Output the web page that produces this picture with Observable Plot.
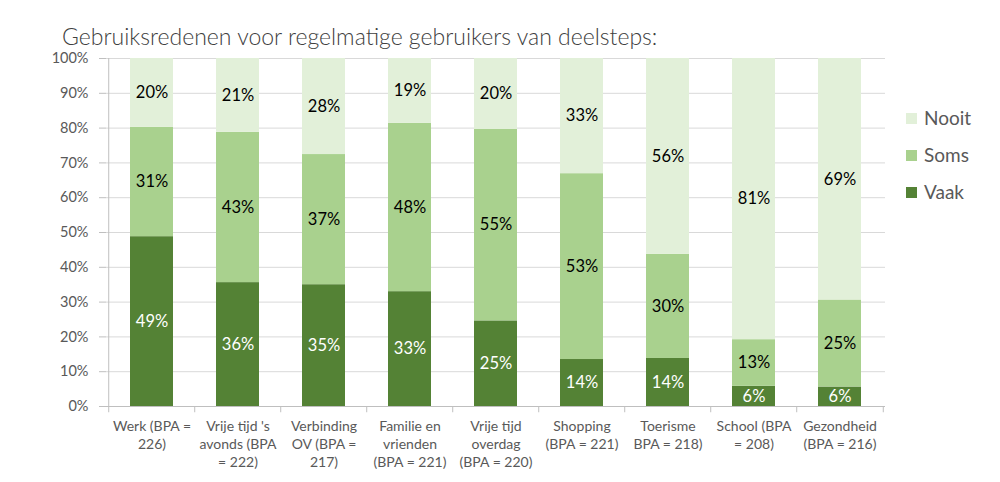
<!DOCTYPE html>
<html>
<head>
<meta charset="utf-8">
<script src="https://cdn.jsdelivr.net/npm/d3@7"></script>
<script src="https://cdn.jsdelivr.net/npm/@observablehq/plot@0.6"></script>
<style>
  body { margin: 0; background: #fff; }
  #wrap { position: relative; width: 1000px; height: 482px; font-family: Lato, "Liberation Sans", sans-serif; }
  #title { height: 48px; box-sizing: border-box; padding-top: 24px; padding-left: 62px; font-size: 23px; line-height: 24px; color: #404040; font-weight: 300; white-space: nowrap; }
  #legend { position: absolute; left: 906px; top: 106px; color: #595959; font-size: 19px; }
  .item { display: flex; align-items: center; line-height: 22px; height: 24px; margin-bottom: 13px; }
  .sw { width: 11px; height: 11px; margin-right: 7px; }
</style>
</head>
<body>
<div id="wrap">
  <div id="title">Gebruiksredenen voor regelmatige gebruikers van deelsteps:</div>
  <div id="chart"></div>
  <div id="legend"></div>
</div>
<script>
const categories = ["Werk", "Vrije tijd 's avonds", "Verbinding OV", "Familie en vrienden", "Vrije tijd overdag", "Shopping", "Toerisme", "School", "Gezondheid"];
const tickLabels = [
  "Werk (BPA =\n226)",
  "Vrije tijd 's\navonds (BPA\n= 222)",
  "Verbinding\nOV (BPA =\n217)",
  "Familie en\nvrienden\n(BPA = 221)",
  "Vrije tijd\noverdag\n(BPA = 220)",
  "Shopping\n(BPA = 221)",
  "Toerisme\nBPA = 218)",
  "School (BPA\n= 208)",
  "Gezondheid\n(BPA = 216)"
];
const series = ["Vaak", "Soms", "Nooit"];
const vaak  = [48.8, 35.6, 35.0, 33.0, 24.6, 13.5, 13.8, 5.8, 5.6];
const soms  = [31.4, 43.2, 37.4, 48.4, 55.0, 53.4, 29.9, 13.4, 25.0];
const nooit = [19.8, 21.2, 27.6, 18.6, 20.4, 33.1, 56.3, 80.8, 69.4];
const colors = ["#548235", "#A9D18E", "#E2F0D9"];
const yTicks = [0, 10, 20, 30, 40, 50, 60, 70, 80, 90, 100];

const values = {Vaak: vaak, Soms: soms, Nooit: nooit};
const data = categories.flatMap((c, i) => series.map(s => ({cat: c, reeks: s, value: values[s][i]})));
const labelOf = Object.fromEntries(categories.map((c, i) => [c, tickLabels[i]]));

const W = 1000, ML = 106, MR = 115;
const step = (W - ML - MR) / categories.length;
const axisColor = "#bfbfbf";
const fmt = d => Math.round(d.value) + "%";

const chart = Plot.plot({
  width: W,
  height: 434,
  marginTop: 10,
  marginBottom: 76,
  marginLeft: ML,
  marginRight: MR,
  style: {fontFamily: "Lato, 'Liberation Sans', sans-serif", fontSize: "13px", color: "#595959", background: "#fff"},
  x: {domain: categories, paddingInner: 0.5, paddingOuter: 0.25, label: null},
  y: {domain: [0, 100], label: null},
  color: {domain: series, range: colors},
  marks: [
    Plot.gridY(yTicks, {stroke: "#d9d9d9", strokeOpacity: 1}),
    Plot.barY(data, {x: "cat", y: "value", fill: "reeks", order: series}),
    Plot.text(data, Plot.stackY({x: "cat", y: "value", z: "reeks", order: series,
      text: d => d.reeks === "Vaak" ? fmt(d) : "", fill: "#ffffff", fontSize: 16.5})),
    Plot.text(data, Plot.stackY({x: "cat", y: "value", z: "reeks", order: series,
      text: d => d.reeks !== "Vaak" ? fmt(d) : "", fill: "#000000", fontSize: 16.5})),
    Plot.ruleY([0], {stroke: axisColor}),
    Plot.ruleX([categories[0]], {y1: 0, y2: 100, dx: -step / 2, stroke: axisColor}),
    Plot.ruleX(categories, {y1: 0, y2: -1.8, dx: -step / 2, stroke: axisColor}),
    Plot.ruleX([categories[categories.length - 1]], {y1: 0, y2: -1.8, dx: step / 2, stroke: axisColor}),
    Plot.axisY({ticks: yTicks, tickSize: 7, tickPadding: 11, stroke: axisColor, tickFormat: d => d + "%", fontSize: 14.5}),
    Plot.axisX({tickSize: 0, tickPadding: 12, tickFormat: d => labelOf[d], fontSize: 14, lineHeight: 1.27})
  ]
});
document.getElementById("chart").appendChild(chart);

const legend = document.getElementById("legend");
[...series].reverse().forEach(s => {
  const item = document.createElement("div");
  item.className = "item";
  const sw = document.createElement("div");
  sw.className = "sw";
  sw.style.background = colors[series.indexOf(s)];
  const t = document.createElement("span");
  t.textContent = s;
  item.appendChild(sw);
  item.appendChild(t);
  legend.appendChild(item);
});
</script>
</body>
</html>
